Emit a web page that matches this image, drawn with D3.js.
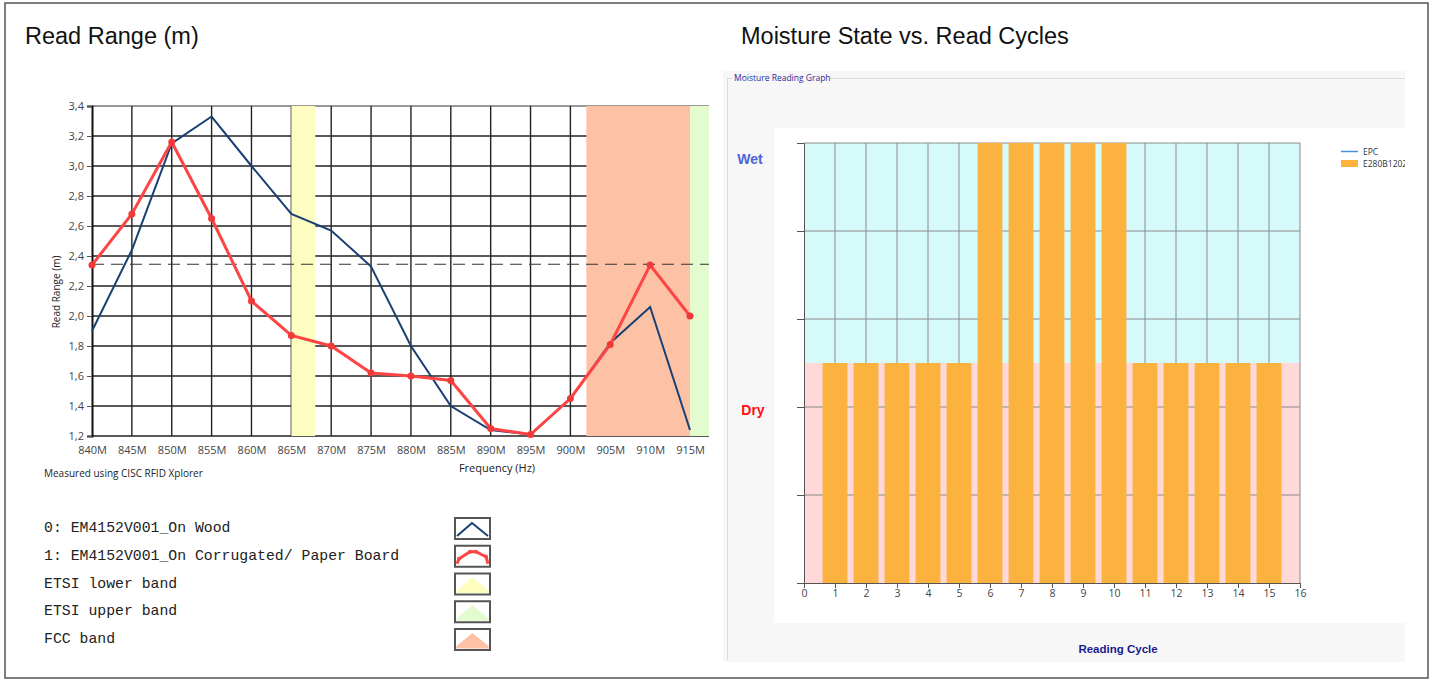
<!DOCTYPE html>
<html>
<head>
<meta charset="utf-8">
<script src="https://cdnjs.cloudflare.com/ajax/libs/d3/7.8.5/d3.min.js"></script>
<style>
  body { margin: 0; background: #fff; }
  svg { display: block; }
</style>
</head>
<body>
<svg id="chart" width="1434" height="681"></svg>
<script>
// ---- data: read range chart ----
const freqs = [840, 845, 850, 855, 860, 865, 870, 875, 880, 885, 890, 895, 900, 905, 910, 915];
const onWood = [1.90, 2.44, 3.15, 3.33, 3.00, 2.68, 2.57, 2.33, 1.80, 1.40, 1.24, 1.21, 1.45, 1.82, 2.06, 1.24];
const onBoard = [2.34, 2.68, 3.16, 2.65, 2.10, 1.87, 1.80, 1.62, 1.60, 1.57, 1.25, 1.21, 1.45, 1.81, 2.34, 2.00];
const rangeTicks = [1.2, 1.4, 1.6, 1.8, 2.0, 2.2, 2.4, 2.6, 2.8, 3.0, 3.2, 3.4];
const thresholdRange = 2.345;
const bandNames = ["ETSI lower band", "ETSI upper band", "FCC band"];
const bandFrom = [865, 915, 902];
const bandTo = [868, 921, 928];
const bandColors = ["#fdfdc0", "#e4fbd0", "#fdc2a6"];
const seriesNames = ["0: EM4152V001_On Wood", "1: EM4152V001_On Corrugated/ Paper Board"];

// ---- data: moisture chart ----
const cycles = [1, 2, 3, 4, 5, 6, 7, 8, 9, 10, 11, 12, 13, 14, 15];
const moisture = [2.5, 2.5, 2.5, 2.5, 2.5, 5, 5, 5, 5, 5, 2.5, 2.5, 2.5, 2.5, 2.5];
const cycleTicks = d3.range(0, 17);
const moistureTicks = [0, 1, 2, 3, 4, 5];
const wetDryLimit = 2.5;

class sketch {
    constructor(svg){
        this.d3 = d3.select(svg);
    }
    text(x, y, t, opt){
        return this.d3.append("text")
            .attr("x", x).attr("y", y)
            .attr("font-size", opt["font-size"])
            .attr("font-family", opt["font-family"] || "Arial, 'Liberation Sans', sans-serif")
            .attr("font-weight", opt["font-weight"] || "normal")
            .attr("text-anchor", opt["text-anchor"] || "start")
            .style("fill", opt.fill || "#222")
            .text(t);
    }
    rect(x, y, w, h, opt){
        return this.d3.append("rect")
            .attr("x", x).attr("y", y)
            .attr("width", w).attr("height", h)
            .style("fill", opt.fill || "none")
            .style("stroke", opt.stroke || "none")
            .style("stroke-width", opt["stroke-width"] || 1);
    }
    group(){
        return this.d3.append("g");
    }
}

const s = new sketch("#chart");

// outer frame
s.rect(5, 3, 1423, 675, {fill: "#fff", stroke: "#555", "stroke-width": 1.5});

s.text(25, 44, "Read Range (m)", {"font-size": "23.5px", fill: "#111"});
s.text(741, 44, "Moisture State vs. Read Cycles", {"font-size": "23.5px", fill: "#111"});

// ================= left chart =================
const xL = d3.scaleLinear().domain([840, 915]).range([92, 690]);
const yL = d3.scaleLinear().domain([1.2, 3.4]).range([436, 106]);
const plotRight = 709;
const L = s.group();

// grid
L.append("g").selectAll("line").data(rangeTicks).join("line")
    .attr("x1", xL(840)).attr("x2", plotRight)
    .attr("y1", d => yL(d)).attr("y2", d => yL(d))
    .style("stroke", (d, i) => i === rangeTicks.length - 1 ? "#777" : "#222")
    .style("stroke-width", 1.4);
L.append("g").selectAll("line").data(freqs.slice(1)).join("line")
    .attr("x1", d => xL(d)).attr("x2", d => xL(d))
    .attr("y1", yL(3.4)).attr("y2", yL(1.2))
    .style("stroke", "#222").style("stroke-width", 1.4);

// bands
L.append("g").selectAll("rect").data(bandNames).join("rect")
    .attr("x", (d, i) => xL(bandFrom[i]))
    .attr("width", (d, i) => Math.min(plotRight, xL(bandTo[i])) - xL(bandFrom[i]))
    .attr("y", yL(3.4)).attr("height", yL(1.2) - yL(3.4))
    .style("fill", (d, i) => bandColors[i]);
// ETSI upper drawn over FCC
L.append("rect")
    .attr("x", xL(bandFrom[1])).attr("width", Math.min(plotRight, xL(bandTo[1])) - xL(bandFrom[1]))
    .attr("y", yL(3.4)).attr("height", yL(1.2) - yL(3.4))
    .style("fill", bandColors[1]);

// threshold
L.append("line")
    .attr("x1", xL(840)).attr("x2", plotRight)
    .attr("y1", yL(thresholdRange)).attr("y2", yL(thresholdRange))
    .style("stroke", "#333").style("stroke-width", 1.2)
    .style("stroke-dasharray", "12,7");

// axes
const yAxisL = d3.axisLeft(yL).tickValues(rangeTicks).tickSize(5)
    .tickFormat(d => d3.format(".1f")(d).replace(".", ","));
L.append("g").attr("transform", `translate(${xL(840)},0)`).call(yAxisL)
    .call(g => g.select(".domain").style("stroke", "#111").style("stroke-width", 2))
    .call(g => g.selectAll(".tick line").style("stroke", "#555"))
    .call(g => g.selectAll("text").style("fill", "#444").attr("font-size", "11px")
        .attr("font-family", "'Open Sans', 'Liberation Sans', sans-serif"));
const xAxisL = d3.axisBottom(xL).tickValues(freqs).tickSize(0).tickPadding(10)
    .tickFormat(d => d + "M");
L.append("g").attr("transform", `translate(0,${yL(1.2)})`).call(xAxisL)
    .call(g => g.select(".domain").remove())
    .call(g => g.selectAll("text").style("fill", "#444").attr("font-size", "11px")
        .attr("font-family", "'Open Sans', 'Liberation Sans', sans-serif"));

// lines
const lineL = d3.line().x((d, i) => xL(freqs[i])).y(d => yL(d));
L.append("path").datum(onWood).attr("d", lineL)
    .style("fill", "none").style("stroke", "#1a3f73").style("stroke-width", 2);
L.append("path").datum(onBoard).attr("d", lineL)
    .style("fill", "none").style("stroke", "#fe4545").style("stroke-width", 3);
L.append("g").selectAll("circle").data(onBoard).join("circle")
    .attr("cx", (d, i) => xL(freqs[i])).attr("cy", d => yL(d)).attr("r", 3.5)
    .style("fill", "#f03a3a");

// titles
s.text(0, 0, "Read Range (m)", {"font-size": "10px", "text-anchor": "middle", fill: "#222",
    "font-family": "'Open Sans', 'Liberation Sans', sans-serif"})
    .attr("transform", `translate(60,${yL(2.16)}) rotate(-90)`);
s.text(497, 472, "Frequency (Hz)", {"font-size": "11px", "text-anchor": "middle", fill: "#222",
    "font-family": "'Open Sans', 'Liberation Sans', sans-serif"});
s.text(44, 477, "Measured using CISC RFID Xplorer", {"font-size": "10px", fill: "#222",
    "font-family": "'Open Sans', 'Liberation Sans', sans-serif"});

// legend
const legendNames = seriesNames.concat(bandNames);
const legY = d3.scaleLinear().domain([0, 4]).range([532, 643]);
const Lg = s.group();
Lg.selectAll("text").data(legendNames).join("text")
    .attr("x", 44).attr("y", (d, i) => legY(i))
    .attr("font-family", "'Courier New', 'Liberation Mono', monospace")
    .attr("font-size", "14.8px").style("fill", "#222")
    .text(d => d);
Lg.selectAll("rect").data(legendNames).join("rect")
    .attr("x", 455).attr("y", (d, i) => legY(i) - 14).attr("width", 35).attr("height", 21)
    .style("fill", "#fff").style("stroke", "#555").style("stroke-width", 2);
const icon = (i, pts) => pts.map(p => [455 + p[0], legY(i) - 14 + p[1]]);
Lg.append("polyline").attr("points", icon(0, [[2, 18], [17, 5], [33, 18]]).join(" "))
    .style("fill", "none").style("stroke", "#1a3f73").style("stroke-width", 2);
Lg.append("polyline").attr("points", icon(1, [[2, 18], [4, 13], [15, 6], [21, 6], [31, 11], [33, 18]]).join(" "))
    .style("fill", "none").style("stroke", "#fe4545").style("stroke-width", 3);
Lg.selectAll(".mk").data([[4, 13], [15, 6], [21, 6], [31, 11]]).join("circle")
    .attr("cx", d => 455 + d[0]).attr("cy", d => legY(1) - 14 + d[1]).attr("r", 2)
    .style("fill", "#fe4545");
bandNames.forEach((b, j) => {
    Lg.append("polygon")
        .attr("points", icon(j + 2, [[1.5, 19.5], [1.5, 17], [17.5, 4], [33.5, 17], [33.5, 19.5]]).join(" "))
        .style("fill", bandColors[j]);
});

// ================= right chart =================
const R = s.group();
R.append("rect").attr("x", 723).attr("y", 71).attr("width", 682).attr("height", 591)
    .style("fill", "#f7f7f7");
R.append("path").attr("d", "M732,78.5 H727.5 V660 M830,78.5 H1405")
    .style("fill", "none").style("stroke", "#dcdcdc");
s.text(734, 81, "Moisture Reading Graph", {"font-size": "8.5px", fill: "#2a2a9a",
    "font-family": "'Open Sans', 'Liberation Sans', sans-serif"});
R.append("rect").attr("x", 774).attr("y", 128).attr("width", 631).attr("height", 495)
    .style("fill", "#fff");

const xR = d3.scaleLinear().domain([0, 16]).range([804, 1300]);
const yR = d3.scaleLinear().domain([0, 5]).range([583, 143]);

// wet / dry backgrounds
R.append("rect").attr("x", xR(0)).attr("width", xR(16) - xR(0))
    .attr("y", yR(5)).attr("height", yR(wetDryLimit) - yR(5)).style("fill", "#d6fafa");
R.append("rect").attr("x", xR(0)).attr("width", xR(16) - xR(0))
    .attr("y", yR(wetDryLimit)).attr("height", yR(0) - yR(wetDryLimit)).style("fill", "#ffd8d8");

// grid
R.append("g").selectAll("line").data(moistureTicks.slice(1)).join("line")
    .attr("x1", xR(0)).attr("x2", xR(16)).attr("y1", d => yR(d)).attr("y2", d => yR(d))
    .style("stroke", "#8a8a8a").style("stroke-width", 1);
R.append("g").selectAll("line").data(cycleTicks.slice(1)).join("line")
    .attr("x1", d => xR(d)).attr("x2", d => xR(d)).attr("y1", yR(5)).attr("y2", yR(0))
    .style("stroke", "#8a8a8a").style("stroke-width", 1);

// bars
R.append("g").selectAll("rect").data(moisture).join("rect")
    .attr("x", (d, i) => xR(cycles[i] - 0.4)).attr("width", xR(0.8) - xR(0))
    .attr("y", d => yR(d)).attr("height", d => yR(0) - yR(d))
    .style("fill", "#fbb23f");

// axes
R.append("g").attr("transform", `translate(${xR(0)},0)`)
    .call(d3.axisLeft(yR).tickValues(moistureTicks).tickSize(7).tickFormat(""))
    .call(g => g.select(".domain").style("stroke", "#555"))
    .call(g => g.selectAll(".tick line").style("stroke", "#555"));
R.append("g").attr("transform", `translate(0,${yR(0)})`)
    .call(d3.axisBottom(xR).tickValues(cycleTicks).tickSize(5).tickSizeOuter(0).tickPadding(2))
    .call(g => g.select(".domain").style("stroke", "#555"))
    .call(g => g.selectAll(".tick line").style("stroke", "#555"))
    .call(g => g.selectAll("text").style("fill", "#444").attr("font-size", "10.5px")
        .attr("font-family", "'Open Sans', 'Liberation Sans', sans-serif"));

s.text(750, 164, "Wet", {"font-size": "14px", "font-weight": "bold", "text-anchor": "middle", fill: "#4a63d8"});
s.text(753, 415, "Dry", {"font-size": "14px", "font-weight": "bold", "text-anchor": "middle", fill: "#ff1010"});
s.text(1118, 653, "Reading Cycle", {"font-size": "11.5px", "font-weight": "bold", "text-anchor": "middle", fill: "#1a1a8c"});

// legend (clipped by panel edge)
const clip = s.d3.append("clipPath").attr("id", "legclip");
clip.append("rect").attr("x", 1300).attr("y", 128).attr("width", 105).attr("height", 100);
const RL = s.group().attr("clip-path", "url(#legclip)");
RL.append("line").attr("x1", 1341).attr("x2", 1358).attr("y1", 151.5).attr("y2", 151.5)
    .style("stroke", "#4a90e2").style("stroke-width", 1.5);
RL.append("rect").attr("x", 1341).attr("y", 160).attr("width", 17).attr("height", 7).style("fill", "#fbb23f");
RL.selectAll("text").data(["EPC", "E280B1202"]).join("text")
    .attr("x", 1363).attr("y", (d, i) => 154.5 + i * 12)
    .attr("font-size", "8.5px").attr("font-family", "'Open Sans', 'Liberation Sans', sans-serif")
    .style("fill", "#333").text(d => d);
</script>
</body>
</html>
